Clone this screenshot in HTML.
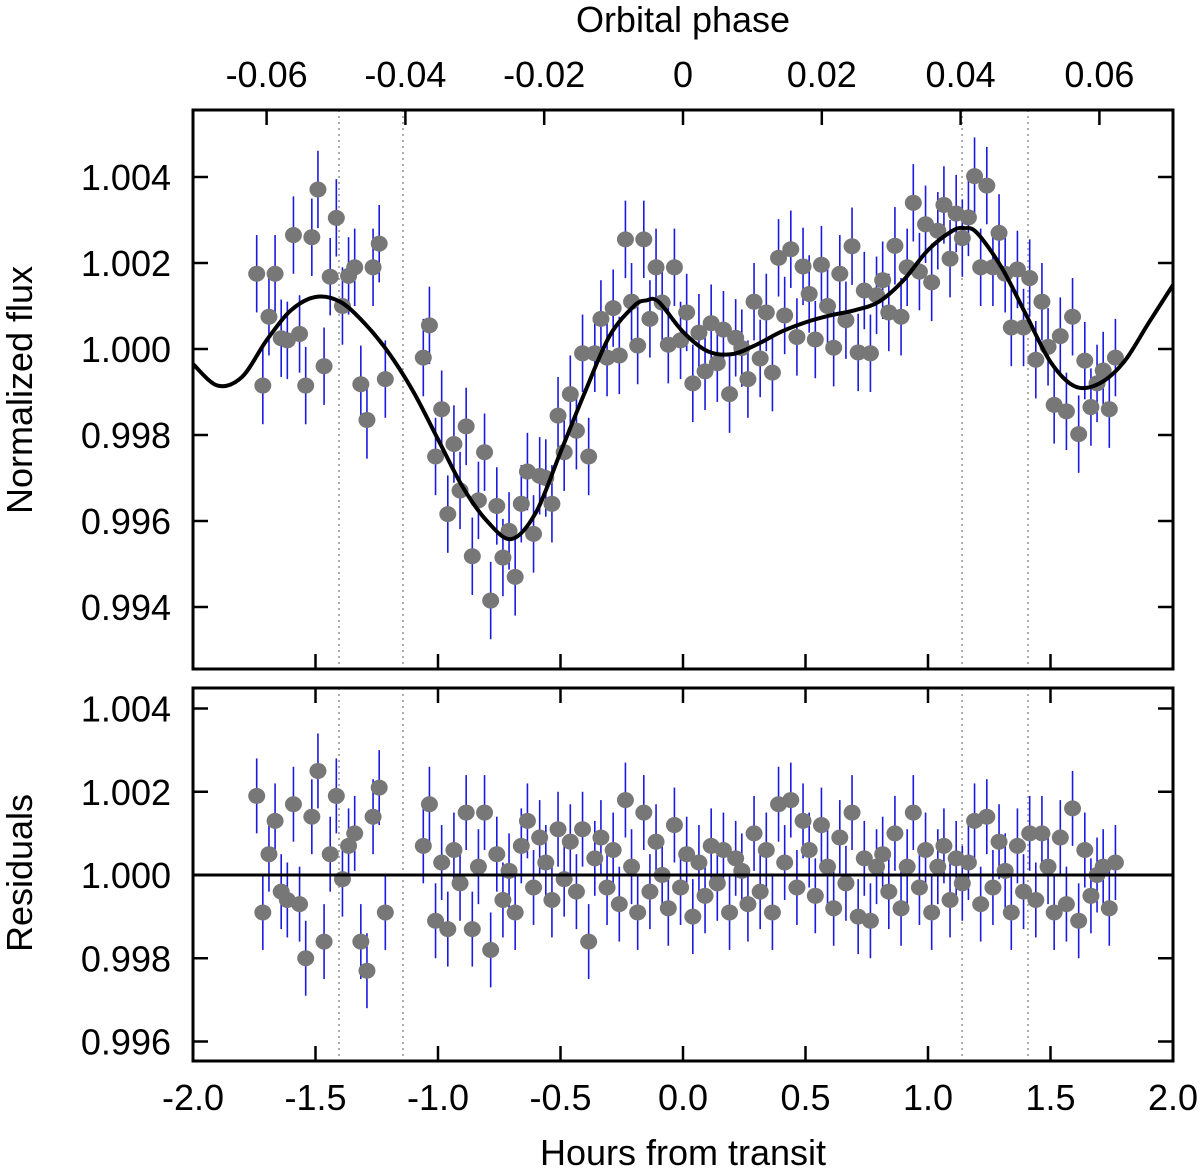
<!DOCTYPE html>
<html><head><meta charset="utf-8"><style>
html,body{margin:0;padding:0;background:#fff}
svg{display:block;font-family:"Liberation Sans",Arial,sans-serif}
</style></head><body>
<svg id="chart" width="1200" height="1172" viewBox="0 0 1200 1172" xmlns="http://www.w3.org/2000/svg"></svg>
<script>
// ---- data ----
const seg1Start = -1.74, seg2Start = -1.06, timeStep = 0.025;
const flux1Ppm = [1750,-850,750,1750,250,200,2650,350,-850,2600,3710,-400,1680,3050,1000,1700,1900,-820,-1650,1900,2450,-700];
const resid1Ppm = [1900,-900,500,1300,-400,-600,1700,-700,-2000,1400,2500,-1600,500,1900,-100,700,1000,-1600,-2300,1400,2100,-900];
const flux2Ppm = [-200,550,-2500,-1400, -3840,-2210,-3290,-1800, -4820,-3520,-2400,-5850, -3650,-4850,-4230,-5300,
 -3600,-2850,-4300,-2950, -3000,-3600,-1550,-2400, -1050,-1900,-100,-2500, -100,700,-200,950, -150,2550,1100,80,
 2550,700,1900,1080, 100,1900,200,850, -800,380,-520,600, -330,450,-1050,260, 20,-700,1100,-220, 850,-550,2120,780,
 2320,280,1920,1280, 220,1960,1000,30, 1750,670,2390,-80, 1360,-100,1250,1600, 850,2400,750,1900, 3400,1800,2900,1550,
 2750,3350,2100,3150, 2580,3060,4020,1900, 3800,1900,2700,1750, 500,1850,500,1650, -250,1100,50,-1300,
 300,-1450,750,-1980, -270,-1350,-800,-500, -1400,-200];
const resid2Ppm = [700,1700,-1100,300, -1300,600,-200,1500, -1300,200,1500,-1800, 500,-600,100,-900,
 700,1300,-300,900, 300,-600,1100,-100, 800,-400,1100,-1600, 400,900,-300,600, -700,1800,200,-900,
 1500,-400,800,0, -800,1200,-300,500, -1000,300,-500,700, -200,600,-900,400, 100,-700,1000,-400, 600,-900,1700,300,
 1800,-300,1300,600, -500,1200,200,-800, 900,-200,1500,-1000, 400,-1100,200,500, -400,1000,-800,200, 1500,-300,600,-900,
 200,700,-600,400, -200,300,1300,-700, 1400,-300,800,100, -900,700,-400,1000, -600,1000,200,-900,
 900,-700,1600,-1100, 600,-500,0,200, -800,300];
const errPpm = 900;
const modelT = [-2.0,-1.9,-1.8,-1.7,-1.6,-1.5,-1.4,-1.3,-1.2,-1.1,-1.0,-0.9,-0.8,-0.7,-0.6,-0.5,-0.4,-0.3,-0.2,-0.15,-0.1,0.0,0.1,0.2,0.3,0.4,0.5,0.6,0.7,0.8,0.9,1.0,1.1,1.15,1.2,1.3,1.4,1.5,1.6,1.7,1.8,1.9,2.0];
const modelPpm = [-350,-850,-650,200,900,1210,1100,600,-100,-1000,-2100,-3200,-4000,-4420,-3800,-2400,-1000,300,1000,1130,1100,400,-50,-120,100,400,620,780,900,1100,1600,2300,2750,2810,2700,1900,800,-300,-870,-800,-300,600,1490];
const xTicks = [-2.0,-1.5,-1.0,-0.5,0.0,0.5,1.0,1.5,2.0];
const phaseTicks = [-0.06,-0.04,-0.02,0,0.02,0.04,0.06];
const phaseLabels = ["-0.06","-0.04","-0.02","0","0.02","0.04","0.06"];
const topYTicks = [1.004,1.002,1.000,0.998,0.996,0.994];
const botYTicks = [1.004,1.002,1.000,0.998,0.996];
const contactLines = [-1.404,-1.143,1.139,1.408];

// ---- axes ----
const X0=193,X1=1173;
const xs = t => X0 + (t+2)/4*(X1-X0);
const phaseX = p => 683 + p*6940;
const T = {top:110,bot:669}; const B={top:688,bot:1061};
const yTop = v => 349 - (v-1)*43000;
const yBot = v => 875 - (v-1)*41625;
const FS = 36;
const svg = document.getElementById('chart');
const NS='http://www.w3.org/2000/svg';
function el(tag, attrs, parent){const e=document.createElementNS(NS,tag);for(const k in attrs)e.setAttribute(k,attrs[k]);(parent||svg).appendChild(e);return e;}
function txt(s,x,y,size,anchor,parent){const e=el('text',{x:x,y:y,'font-size':size,'text-anchor':anchor||'middle',fill:'#000'},parent);e.textContent=s;return e;}

const times1 = flux1Ppm.map((_,i)=>seg1Start+i*timeStep);
const times2 = flux2Ppm.map((_,i)=>seg2Start+i*timeStep);

function panel(name, top, bot, yf, yticks, fluxA, isTop){
  const g = el('g',{});
  
  
  const clipId = name+'-clip';
  const cp = el('clipPath',{id:clipId},g); el('rect',{x:X0,y:top,width:X1-X0,height:bot-top},cp);
  contactLines.forEach(t=>{
    const l=el('line',{x1:xs(t),x2:xs(t),y1:top,y2:bot,stroke:'#777','stroke-width':1.2,'stroke-dasharray':'2,4'},g);
    
    
  });
  const dg = el('g',{'clip-path':'url(#'+clipId+')'},g);
  
  
  const sets=[[times1,fluxA[0]],[times2,fluxA[1]]];
  sets.forEach(([ts,vs])=>ts.forEach((t,i)=>{
    const v=1+vs[i]*1e-6, e=errPpm*1e-6;
    const b=el('line',{x1:xs(t),x2:xs(t),y1:yf(v-e),y2:yf(v+e),stroke:'#1a1ae0','stroke-width':1.6},dg);
    
    
  }));
  sets.forEach(([ts,vs])=>ts.forEach((t,i)=>{
    const c=el('ellipse',{cx:xs(t),cy:yf(1+vs[i]*1e-6),rx:8.5,ry:8,fill:'#777'},dg);
    
    
  }));
  if(isTop){
    const P = modelT.map((t,i)=>[xs(t),yf(1+modelPpm[i]*1e-6)]);
    let d='M'+P[0][0]+','+P[0][1];
    for(let i=0;i<P.length-1;i++){
      const p0=P[Math.max(0,i-1)],p1=P[i],p2=P[i+1],p3=P[Math.min(P.length-1,i+2)];
      d+=' C'+(p1[0]+(p2[0]-p0[0])/6)+','+(p1[1]+(p2[1]-p0[1])/6)+' '+(p2[0]-(p3[0]-p1[0])/6)+','+(p2[1]-(p3[1]-p1[1])/6)+' '+p2[0]+','+p2[1];
    }
    const m=el('path',{d:d,fill:'none',stroke:'#000','stroke-width':4},dg);
    
    
  } else {
    const z=el('line',{x1:X0,x2:X1,y1:yf(1),y2:yf(1),stroke:'#000','stroke-width':3},dg);
    
    
  }
  yticks.forEach(v=>{
    el('line',{x1:X0,x2:X0+15,y1:yf(v),y2:yf(v),stroke:'#000','stroke-width':2.5},g);
    el('line',{x1:X1,x2:X1-15,y1:yf(v),y2:yf(v),stroke:'#000','stroke-width':2.5},g);
    const l=txt(v.toFixed(3),171,yf(v)+13,FS,'end',g);
    
    
  });
  xTicks.forEach(t=>{
    el('line',{x1:xs(t),x2:xs(t),y1:bot,y2:bot-15,stroke:'#000','stroke-width':2.5},g);
    if(!isTop) el('line',{x1:xs(t),x2:xs(t),y1:top,y2:top+15,stroke:'#000','stroke-width':2.5},g);
  });
  if(isTop) phaseTicks.forEach(p=>el('line',{x1:phaseX(p),x2:phaseX(p),y1:top,y2:top+15,stroke:'#000','stroke-width':2.5},g));
  const fr=el('rect',{x:X0,y:top,width:X1-X0,height:bot-top,fill:'none',stroke:'#000','stroke-width':3},g);
  
  
}
panel('flux-panel',T.top,T.bot,yTop,topYTicks,[flux1Ppm,flux2Ppm],true);
panel('residuals-panel',B.top,B.bot,yBot,botYTicks,[resid1Ppm,resid2Ppm],false);

xTicks.forEach(t=>{
  const l=txt(t.toFixed(1),xs(t),1110,FS,'middle');
  
  
});
phaseTicks.forEach((p,i)=>{
  const l=txt(phaseLabels[i],phaseX(p),87,FS,'middle');
  
  
});
let a=txt('Hours from transit',683,1165,FS,'middle');


a=txt('Orbital phase',683,32,FS,'middle');


a=txt('Normalized flux',0,0,FS,'middle');
a.setAttribute('transform','translate(32,390) rotate(-90)');


a=txt('Residuals',0,0,FS,'middle');
a.setAttribute('transform','translate(32,873) rotate(-90)');


</script>
</body></html>
